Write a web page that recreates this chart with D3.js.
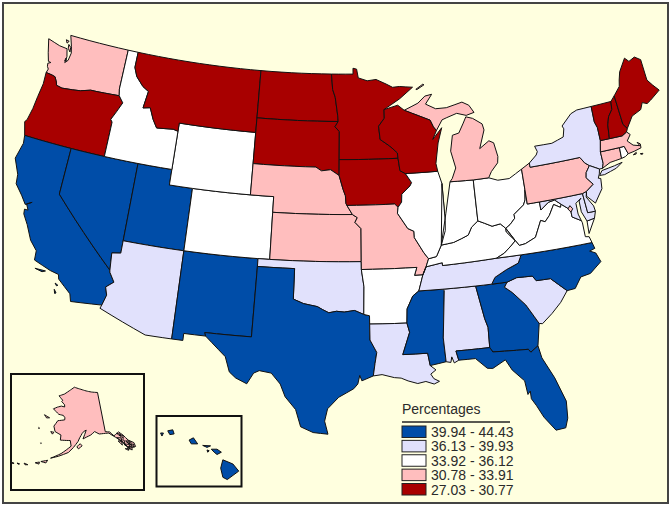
<!DOCTYPE html>
<html>
<head>
<meta charset="utf-8">
<script src="https://cdn.jsdelivr.net/npm/d3@7"></script>
<style>
html,body{margin:0;padding:0;background:#fff;}
svg{display:block;}
text{font-family:"Liberation Sans",Arial,sans-serif;fill:#2b2b2b;}
</style>
</head>
<body>
<div id="map"></div>
<script>
// class breaks, top to bottom of the legend
var classLabels = ["39.94 - 44.43","36.13 - 39.93","33.92 - 36.12","30.78 - 33.91","27.03 - 30.77"]
var classColors = ["#004da8","#e1e1fc","#ffffff","#ffbebe","#a80000"]

// states per class
var class0 = ["CA","NV","UT","NM","TX","MS","GA","FL","NC","HI"]
var class1 = ["AZ","OK","LA","AL","SC","TN","NY","NJ","MD","DE"]
var class2 = ["ID","WY","CO","AR","IL","IN","OH","KY","WV","VA","RI"]
var class3 = ["WA","NE","KS","MO","MI","PA","MA","CT","DC","AK"]
var class4 = ["OR","MT","ND","SD","MN","IA","WI","ME","NH","VT"]

// shared borders, [lon,lat]
var waOr = [[-124.0,46.25],[-123.4,46.2],[-123.1,46.15],[-122.85,45.85],[-122.75,45.65],[-122.2,45.57],[-121.2,45.65],[-120.5,45.72],[-119.6,45.92],[-119.0,45.93],[-116.92,46.0]]
var orId = [[-116.92,46.0],[-116.46,45.6],[-116.85,44.95],[-117.2,44.4],[-117.03,44.25],[-117.03,43.8],[-117.03,42.0]]
var caAz = [[-114.72,32.72],[-114.5,33.4],[-114.7,33.9],[-114.14,34.3],[-114.6,34.87],[-114.63,35.0]]
var idMt = [[-116.05,49],[-116.05,48],[-115.7,47.45],[-114.95,46.9],[-114.35,46.65],[-114.55,45.55],[-113.9,45.65],[-113.45,44.95],[-113.0,44.45],[-111.5,44.55],[-111.05,44.47]]
var ndMn = [[-97.23,49],[-97.1,48],[-96.85,47.5],[-96.6,46.3],[-96.56,45.94]]
var sdMn = [[-96.56,45.94],[-96.85,45.6],[-96.45,45.3],[-96.45,43.5]]
var sdNe = [[-96.45,42.49],[-97.2,42.85],[-98.0,42.77],[-98.5,43.0],[-104.05,43.0]]
var neIa = [[-96.45,42.49],[-96.1,41.6],[-95.9,41.2],[-95.85,40.7],[-95.77,40.58]]
var neMo = [[-95.77,40.58],[-95.31,40.0]]
var ksMo = [[-95.31,40.0],[-94.9,39.8],[-95.1,39.5],[-94.6,39.1],[-94.62,37.0]]
var okAr = [[-94.62,36.5],[-94.43,35.4],[-94.48,33.64]]
var okTx = [[-94.48,33.64],[-95.2,33.9],[-96.0,33.8],[-96.6,33.85],[-97.2,33.75],[-97.7,33.95],[-98.1,34.13],[-99.2,34.3],[-100,34.56],[-100,36.5]]
var txLa = [[-94.04,33.02],[-94.04,32.0],[-93.55,31.2],[-93.7,30.5],[-93.85,29.7]]
var mnWi = [[-92.29,46.66],[-92.3,46.1],[-92.85,45.6],[-92.75,44.75],[-91.9,44.3],[-91.25,43.85],[-91.22,43.5]]
var iaWi = [[-91.22,43.5],[-91.1,42.7],[-90.64,42.5]]
var iaIl = [[-90.64,42.5],[-90.15,41.9],[-90.3,41.7],[-91.05,41.2],[-91.1,40.7],[-91.42,40.38]]
var moIl = [[-91.42,40.38],[-91.5,40.0],[-90.7,39.0],[-90.2,38.8],[-90.2,38.4],[-89.5,37.4],[-89.15,37.0]]
var moKy = [[-89.15,37.0],[-89.4,36.5]]
var moTn = [[-89.4,36.5],[-89.7,36.0]]
var moAr = [[-89.7,36.0],[-90.37,36.0],[-90.15,36.5]]
var arTn = [[-89.7,36.0],[-90.1,35.0]]
var arMs = [[-90.1,35.0],[-90.6,34.7],[-91.1,33.9],[-91.17,33.0]]
var laMs = [[-91.17,33.0],[-91.0,32.4],[-91.6,31.0],[-89.73,31.0],[-89.6,30.2]]
var msAl = [[-88.2,35],[-88.1,34.9],[-88.47,31.9],[-88.4,30.37]]
var alGa = [[-85.6,35],[-85.18,32.87],[-85.0,32.3],[-85.05,31.0]]
var alFl = [[-85.05,31.0],[-87.6,31.0],[-87.45,30.4]]
var gaFl = [[-85.05,31.0],[-84.86,30.7],[-82.2,30.57],[-82.05,30.36],[-81.45,30.7]]
var gaSc = [[-83.1,35],[-83.35,34.7],[-82.8,34.3],[-81.9,33.4],[-81.4,32.6],[-81.1,32.1]]
var ncSc = [[-83.1,35],[-82.3,35.2],[-81.05,35.15],[-80.8,34.82],[-79.67,34.8],[-78.55,33.86]]
var ncTn = [[-84.32,35],[-84.0,35.4],[-83.0,35.8],[-82.0,36.1],[-81.68,36.59]]
var tnKy = [[-89.4,36.5],[-88.07,36.68],[-88.07,36.5],[-83.68,36.6]]
var kyVa = [[-83.68,36.6],[-83.0,36.85],[-82.3,37.3],[-81.97,37.54]]
var kyWv = [[-81.97,37.54],[-82.6,38.17],[-82.6,38.4]]
var kyOh = [[-82.6,38.4],[-83.0,38.73],[-83.7,38.65],[-84.3,38.9],[-84.82,39.1]]
var kyIn = [[-84.82,39.1],[-85.4,38.75],[-85.75,38.27],[-86.3,38.1],[-87.0,37.9],[-88.03,37.8]]
var kyIl = [[-88.03,37.8],[-88.5,37.1],[-89.15,37.0]]
var ilIn = [[-87.53,41.7],[-87.53,39.35],[-87.6,38.7],[-88.03,37.8]]
var inOh = [[-84.8,41.72],[-84.82,39.1]]
var ohWv = [[-80.52,40.64],[-80.65,40.0],[-80.85,39.7],[-81.75,39.2],[-81.75,38.95],[-82.2,38.6],[-82.6,38.4]]
var wvVa = [[-77.72,39.32],[-77.83,39.14],[-78.35,39.4],[-78.87,38.76],[-79.3,38.42],[-79.65,38.55],[-80.3,37.55],[-81.2,37.25],[-81.7,37.2],[-81.97,37.54]]
var wvMd = [[-79.48,39.72],[-79.48,39.2],[-78.75,39.6],[-78.2,39.67],[-77.72,39.32]]
var mdVa = [[-77.72,39.32],[-77.04,38.85],[-77.04,38.4],[-76.35,38.05]]
var mdPa = [[-79.48,39.72],[-75.79,39.72]]
var deMd = [[-75.79,39.72],[-75.7,38.46],[-75.05,38.45]]
var paNj = [[-74.7,41.36],[-75.1,40.97],[-75.2,40.65],[-74.73,40.15],[-75.42,39.8]]
var nyPa = [[-79.76,42.27],[-79.76,42.0],[-75.35,42.0],[-75.05,41.6],[-74.7,41.36]]
var nyVt = [[-73.35,45.01],[-73.4,44.0],[-73.25,43.6],[-73.27,42.75]]
var nyCt = [[-73.5,42.05],[-73.5,41.3],[-73.65,41.0]]
var maCt = [[-73.5,42.05],[-71.8,42.02]]
var ctRi = [[-71.8,42.02],[-71.86,41.32]]
var maRi = [[-71.8,42.02],[-71.38,42.02],[-71.2,41.5]]
var vtNh = [[-71.5,45.01],[-71.6,44.5],[-72.05,44.1],[-72.3,43.6],[-72.46,42.73]]
var nhMa = [[-72.46,42.73],[-71.3,42.7],[-70.85,42.87]]
var nhMe = [[-71.08,45.3],[-70.98,43.4],[-70.7,43.07]]
var wiMi = [[-90.42,46.55],[-89.1,46.13],[-88.1,45.8],[-87.85,45.35],[-87.6,45.1]]

function rev(a){ return a.slice().reverse() }
function ring(){ return [].concat.apply([],arguments) }

var stateRings = {
	WA:[ring([[-124.7,48.38],[-124.35,47.5],[-124.1,46.98],[-123.85,46.95],[-124.1,46.85],[-124.05,46.65],[-123.9,46.5],[-124.0,46.25]],waOr,[[-117.04,46.42],[-117.03,49],[-122.76,49],[-122.4,48.3],[-122.25,47.9],[-122.35,47.4],[-122.6,47.2],[-122.55,47.6],[-122.75,48.1],[-123.5,48.15]]),
		[[-122.75,48.6],[-123.05,48.65],[-122.9,48.45]],[[-122.7,48.4],[-122.45,48.25],[-122.4,47.95],[-122.65,48.15]],[[-122.6,47.5],[-122.5,47.35],[-122.65,47.3]]],
	OR:[ring([[-124.2,42],[-124.55,42.84],[-124.4,43.0],[-124.2,43.8],[-124.1,44.6],[-123.95,45.5]],waOr,orId.slice(1))],
	CA:[ring([[-124.2,42],[-124.1,41.5],[-124.4,40.44],[-123.8,39.5],[-123.7,38.9],[-123.0,38.3],[-122.5,37.8],[-122.0,38.05],[-122.4,37.85],[-122.15,37.5],[-122.45,37.5],[-122.4,37.2],[-121.9,36.6],[-121.3,35.7],[-120.65,35.15],[-120.6,34.55],[-119.2,34.15],[-118.5,34.03],[-118.4,33.75],[-117.3,33.0],[-117.12,32.53]],caAz,[[-120,39],[-120,42]]),
		[[-120.4,34.05],[-119.55,34.05],[-119.8,33.95]],[[-118.6,33.45],[-118.35,33.35],[-118.45,33.3]],[[-118.55,33.05],[-118.35,32.85],[-118.45,32.8]]],
	NV:[[[-120,42],[-114.04,42],[-114.04,36.2],[-114.75,36.1],[-114.63,35.0],[-120,39]]],
	UT:[[[-114.04,42],[-111.05,42],[-111.05,41],[-109.05,41],[-109.05,37],[-114.04,37]]],
	AZ:[ring([[-114.04,37],[-109.05,37],[-109.05,31.33],[-111.07,31.33],[-114.81,32.5]],caAz,[[-114.75,36.1],[-114.04,36.2]])],
	NM:[[[-109.05,37],[-103.0,37],[-103.0,36.5],[-103.06,32],[-106.62,32],[-106.53,31.78],[-108.2,31.78],[-108.2,31.33],[-109.05,31.33]]],
	CO:[[[-109.05,41],[-102.05,41],[-102.05,37],[-109.05,37]]],
	WY:[[[-111.05,45],[-104.05,45],[-104.05,41],[-111.05,41]]],
	ID:[ring([[-117.03,49]],idMt,[[-111.05,42]],rev(orId),[[-117.04,46.42]])],
	MT:[ring(idMt,[[-111.05,45],[-104.05,45],[-104.05,49]])],
	ND:[ring([[-104.05,49]],ndMn,[[-104.05,45.94]])],
	SD:[ring([[-104.05,45.94]],sdMn,sdNe)],
	NE:[ring(rev(sdNe),neIa,neMo,[[-102.05,40],[-102.05,41],[-104.05,41]])],
	KS:[ring([[-102.05,40]],ksMo,[[-102.05,37]])],
	OK:[ring([[-103,37],[-94.62,37]],okAr,okTx,[[-103,36.5]])],
	TX:[ring([[-103,36.5]],rev(okTx),[[-94.04,33.55]],txLa,[[-94.7,29.4],[-94.85,29.75],[-95.0,29.2],[-95.3,28.9],[-96.4,28.35],[-97.2,27.6],[-97.4,26.8],[-97.15,25.96],[-98.2,26.05],[-99.1,26.4],[-99.5,27.5],[-100.3,28.3],[-100.7,29.1],[-101.4,29.77],[-102.3,29.88],[-102.7,29.7],[-103.15,28.98],[-104.0,29.3],[-104.5,29.65],[-104.9,30.6],[-106.0,31.4],[-106.53,31.78],[-106.62,32],[-103.06,32]])],
	MN:[ring([[-97.23,49],[-95.15,49],[-95.15,49.38],[-94.8,49.32],[-94.65,48.75],[-93.8,48.55],[-92.95,48.62],[-92.0,48.3],[-91.4,48.07],[-90.75,48.1],[-89.5,48.0],[-90.8,47.3]],mnWi,rev(sdMn),rev(ndMn))],
	IA:[ring([[-96.45,43.5]],iaWi,iaIl,[[-91.7,40.6]],rev(neIa))],
	MO:[ring(neMo.slice(0,1),[[-91.7,40.6]],moIl,moKy,moTn,moAr,[[-94.62,36.5]],rev(ksMo))],
	AR:[ring([[-94.62,36.5]],rev(moAr),arTn,arMs,[[-94.04,33.02],[-94.04,33.55]],rev(okAr))],
	LA:[ring(rev(txLa),laMs,[[-89.4,30.05],[-89.2,29.9],[-89.6,29.65],[-89.4,29.35],[-89.0,29.15],[-89.4,29.0],[-90.0,29.2],[-90.6,29.1],[-91.3,29.3],[-91.8,29.5],[-92.3,29.55],[-93.2,29.77]])],
	MS:[ring(arTn.slice(1),msAl,[[-89.6,30.2]],rev(laMs),rev(arMs))],
	AL:[ring(msAl.slice(0,1),alGa,alFl,[[-87.8,30.25],[-87.95,30.65],[-88.05,30.3]],rev(msAl).slice(0,-1))],
	GA:[ring(alGa,gaFl,rev(gaSc))],
	FL:[ring(rev(alFl),gaFl.slice(1),[[-81.3,29.9],[-80.6,28.5],[-80.05,26.9],[-80.15,25.8],[-80.4,25.2],[-81.1,25.15],[-81.8,26.1],[-82.2,26.9],[-82.5,27.4],[-82.5,27.9],[-82.7,27.7],[-82.8,28.6],[-83.6,29.4],[-84.0,30.1],[-85.0,29.65],[-85.4,29.7],[-86.2,30.4]])],
	SC:[ring(ncSc,[[-79.2,33.2],[-80.0,32.6],[-80.85,32.05]],rev(gaSc))],
	NC:[ring(ncTn,[[-75.87,36.55],[-75.75,36.15],[-76.2,36.05],[-75.75,35.85],[-75.5,35.25],[-76.5,34.65],[-77.3,34.55],[-77.9,33.9]],rev(ncSc))],
	TN:[ring(arTn,[[-88.2,35],[-85.6,35],[-84.32,35]],ncTn.slice(1),rev(tnKy),rev(moTn))],
	KY:[ring(tnKy,kyVa,kyWv,kyOh,kyIn,kyIl,moKy)],
	IL:[ring([[-90.64,42.5],[-87.8,42.5]],ilIn,kyIl,rev(moIl),rev(iaIl))],
	IN:[ring(rev(ilIn),rev(kyIn),rev(inOh),[[-86.82,41.76]])],
	OH:[ring(inOh,rev(kyOh),rev(ohWv),[[-80.52,41.97],[-81.7,41.5],[-82.7,41.5],[-83.45,41.73]])],
	WV:[ring(rev(kyWv),rev(ohWv),[[-80.52,39.72]],wvMd,wvVa)],
	VA:[ring(kyVa.slice(0,1),[[-81.68,36.59],[-75.87,36.55],[-76.0,36.95],[-76.3,37.0],[-76.3,37.9]],rev(mdVa),wvVa,rev(kyVa)),
		[[-75.9,37.95],[-75.25,38.03],[-75.95,37.15]]],
	MD:[ring(mdPa,deMd,[[-75.25,38.03],[-75.9,37.95],[-76.2,38.6],[-76.2,39.3],[-76.0,39.45],[-76.5,39.2],[-76.5,38.5]],rev(mdVa),rev(wvMd))],
	DE:[ring([[-75.79,39.72],[-75.42,39.8],[-75.55,39.45],[-75.1,38.8],[-75.05,38.45]],rev(deMd).slice(1))],
	DC:[[[-77.25,38.95],[-77.03,39.13],[-76.85,38.9],[-77.05,38.72]]],
	PA:[ring([[-80.52,41.97]],nyPa,paNj,rev(mdPa),[[-80.52,39.72],[-80.52,40.64]])],
	NY:[ring(rev(nyPa),[[-79.05,42.7],[-78.9,42.9],[-79.05,43.27],[-77.5,43.25],[-76.4,43.5],[-76.2,44.0],[-76.3,44.2],[-75.3,44.85],[-74.7,45.0]],nyVt,nyCt,[[-73.92,41.0]]),
		[[-74.03,40.6],[-73.75,40.87],[-72.6,40.98],[-71.9,41.07],[-72.5,40.8],[-73.6,40.58]]],
	NJ:[ring([[-73.92,41.0],[-74.03,40.7],[-74.2,40.45],[-74.0,40.4],[-74.1,39.75],[-74.9,38.95],[-75.5,39.5]],rev(paNj))],
	CT:[ring(maCt,ctRi,[[-72.9,41.25]],rev(nyCt))],
	RI:[ring(maRi,[[-71.5,41.37]],rev(ctRi))],
	MA:[ring(nyVt.slice(3),nhMa,[[-70.6,42.65],[-71.0,42.3],[-70.6,41.95],[-70.05,41.8],[-70.2,42.05],[-69.97,41.9],[-70.0,41.65],[-70.65,41.55]],rev(maRi),rev(maCt)),
		[[-70.8,41.35],[-70.5,41.45],[-70.55,41.35]],[[-70.2,41.3],[-69.97,41.28],[-70.05,41.22]]],
	VT:[ring(nyVt,rev(vtNh))],
	NH:[ring(vtNh,nhMa.slice(1),rev(nhMe))],
	ME:[ring(nhMe.slice(0,1),[[-70.4,45.8],[-70.25,46.2],[-70.0,46.7],[-69.22,47.46],[-68.9,47.18],[-68.3,47.35],[-67.8,47.07],[-67.8,45.7],[-67.45,45.3],[-67.0,44.85],[-68.0,44.4],[-68.4,44.25],[-68.8,44.4],[-69.1,44.0],[-70.0,43.75]],rev(nhMe))],
	MI:[[[-86.82,41.76],[-84.8,41.72],[-83.45,41.73],[-83.15,42.1],[-82.5,42.6],[-82.4,43.0],[-82.6,43.9],[-83.0,44.07],[-83.9,43.65],[-83.3,44.8],[-83.4,45.2],[-84.2,45.63],[-84.8,45.78],[-85.1,45.4],[-85.6,44.8],[-86.2,44.7],[-86.5,43.7],[-86.2,42.6],[-86.6,41.95]],
		ring(wiMi,[[-87.0,45.75],[-86.6,45.85],[-85.6,46.07],[-84.75,45.87],[-84.0,46.0],[-84.4,46.5],[-85.0,46.75],[-86.5,46.5],[-87.5,46.5],[-88.4,46.85],[-87.75,47.45],[-88.4,47.37],[-89.1,46.95]]),
		[[-89.2,47.85],[-88.5,48.15],[-88.4,48.1],[-89.1,47.83]]],
	WI:[ring(mnWi.slice(0,1),[[-91.0,46.9]],wiMi,[[-88.0,44.55],[-87.1,45.25],[-87.55,44.3],[-87.9,43.0],[-87.8,42.5]],rev(iaWi),rev(mnWi))],
	AK:[[[-141,69.65],[-145,70],[-148.5,70.4],[-152,70.85],[-156.6,71.35],[-160,70.4],[-163,69.5],[-166.2,68.9],[-163.5,68.0],[-164,67.7],[-162,67],[-161.8,66.5],[-163.8,66.6],[-166,66.2],[-168,65.65],[-164.5,64.6],[-162,64.5],[-161,64],[-161,63.5],[-164.5,63.1],[-166,61.7],[-165,60.5],[-162,59.9],[-162,58.7],[-157.5,58.8],[-157,57.5],[-161,55.6],[-165,54.2],[-162,54.9],[-158,56],[-156,57.2],[-154,58.6],[-153.2,59.5],[-152,60.5],[-151,61],[-150,61.2],[-151.7,59.2],[-150,59.6],[-148,60],[-146,60.7],[-144,60],[-141,59.9],[-139.5,59.8],[-137,58.5],[-136,58],[-134,56.5],[-133,55.5],[-131,55],[-130,55],[-130.1,56],[-132,57],[-133.5,58.5],[-135,59.5],[-137.5,58.9],[-139,60],[-141,60.3]],
		[[-154.5,57.4],[-153,58.1],[-152.2,57.6],[-153.8,56.9]],[[-172,63.8],[-169,63.4],[-170.5,63.2]],[[-167,60.3],[-165.5,60.3],[-166,59.8]],[[-173,60.6],[-172.6,60.5],[-172.8,60.3]],
		[[-170.4,57.2],[-170,57.2],[-170.2,57.1]],[[-168.5,53],[-166,53.6],[-166.5,52.9]],[[-170.5,52.4],[-169,52.8],[-169,52.3]],[[-174.5,51.6],[-173,51.5],[-174,51.3]],[[-177,51.1],[-176,51.1],[-176.5,50.9]],[[-179,50.8],[-178,50.8],[-178.5,50.6]],
		[[-136.5,58.3],[-135,57.2],[-134.6,58]],[[-134.9,57.6],[-133.9,56],[-133.7,57.3]],[[-136.3,57.5],[-135,56.3],[-134.9,57.2]],[[-134.2,56.4],[-132.5,54.8],[-132.2,56]],[[-133.2,55.5],[-131.8,54.5],[-131.4,55.4]],[[-133.2,57],[-132,56],[-131.8,56.8]],
		[[-132.9,56.7],[-131.5,55.6],[-131.2,56.4]],[[-135,58.8],[-133.8,57.7],[-133.6,58.4]],[[-131.8,55.9],[-130.6,55],[-130.5,55.7]],[[-134.3,55.3],[-133.2,54.7],[-133.1,55.1]],[[-136,59.3],[-134.7,58.4],[-134.5,58.9]]],
	HI:[[[-155.9,20.25],[-155.2,19.97],[-154.8,19.5],[-155.6,18.95],[-155.9,19.1],[-156.05,19.7]],
		[[-156.7,20.95],[-156.3,20.95],[-156,20.75],[-156.3,20.6],[-156.5,20.75]],
		[[-157.3,21.2],[-156.75,21.17],[-157.0,21.07]],[[-157,20.9],[-156.85,20.85],[-156.95,20.75]],
		[[-158.25,21.55],[-157.95,21.7],[-157.65,21.3],[-158.1,21.3]],
		[[-159.75,22.15],[-159.4,22.22],[-159.3,21.95],[-159.6,21.9]],[[-160.25,22],[-160.05,22],[-160.15,21.8]]]
}

var W = 672, H = 508

var svg = d3.select("#map").append("svg").attr("width",W).attr("height",H)
svg.append("rect").attr("x",3).attr("y",3).attr("width",W-7).attr("height",H-8)
	.attr("fill","#ffffdf").attr("stroke","#444").attr("stroke-width",2)

var colorOf = {}
var classes = [class0,class1,class2,class3,class4]
classes.forEach(function(list,i){
	list.forEach(function(s){ colorOf[s] = classColors[i] })
})

// long straight borders have to follow the parallels, not great circles
function dense(r){
	var out = []
	r.forEach(function(p,i){
		var q = r[(i+1)%r.length]
		var n = Math.max(1,Math.ceil(Math.abs(q[0]-p[0])))
		for(var k=0;k<n;k++){
			out.push([p[0]+(q[0]-p[0])*k/n,p[1]+(q[1]-p[1])*k/n])
		}
	})
	out.push(out[0])
	return out
}
function feature(code){
	var polys = stateRings[code].map(function(r){
		var d = dense(r)
		var poly = {type:"Polygon",coordinates:[d]}
		if(d3.geoArea(poly)>2*Math.PI) poly.coordinates = [d.slice().reverse()]
		return poly.coordinates
	})
	return {type:"Feature",id:code,geometry:{type:"MultiPolygon",coordinates:polys}}
}

var mainland = d3.geoAlbers().rotate([96,0]).center([-0.6,38.7]).parallels([29.5,45.5]).scale(893).translate([337,235])
var alaska = d3.geoAlbers().rotate([154,0]).center([0,62]).parallels([55,65]).scale(245).translate([78,427])
var hawaii = d3.geoAlbers().rotate([157,0]).center([0,20.7]).parallels([8,18]).scale(875).translate([207,453])

function drawStates(codes,projection){
	svg.append("g").selectAll("path")
		.data(codes.map(feature))
		.enter().append("path")
		.attr("d",d3.geoPath(projection))
		.attr("fill",function(d){return colorOf[d.id]})
		.attr("stroke","#111")
		.attr("stroke-width",1)
		.attr("stroke-linejoin","round")
}
var lower = Object.keys(stateRings).filter(function(s){return s!="AK"&&s!="HI"})
drawStates(lower,mainland)

// inset frames
svg.append("rect").attr("x",11).attr("y",374).attr("width",133).attr("height",116).attr("fill","none").attr("stroke","#111").attr("stroke-width",2)
svg.append("rect").attr("x",156.5).attr("y",416).attr("width",85).attr("height",70.5).attr("fill","none").attr("stroke","#111").attr("stroke-width",2)
drawStates(["AK"],alaska)
drawStates(["HI"],hawaii)

// legend
var legend = svg.append("g")
legend.append("text").attr("x",402).attr("y",414).attr("font-size",14).text("Percentages")
legend.append("line").attr("x1",402).attr("x2",510).attr("y1",422).attr("y2",422).attr("stroke","#222").attr("stroke-width",1.5)
var rowY = d3.scaleLinear().domain([0,4]).range([426,483.5])
legend.selectAll(".swatch").data(classLabels).enter().append("rect")
	.attr("class","swatch").attr("x",402).attr("y",function(d,i){return rowY(i)})
	.attr("width",24).attr("height",11.5)
	.attr("fill",function(d,i){return classColors[i]}).attr("stroke","#222")
legend.selectAll(".lab").data(classLabels).enter().append("text")
	.attr("class","lab").attr("x",431).attr("y",function(d,i){return rowY(i)+11})
	.attr("font-size",14).text(function(d){return d})
</script>
</body>
</html>
